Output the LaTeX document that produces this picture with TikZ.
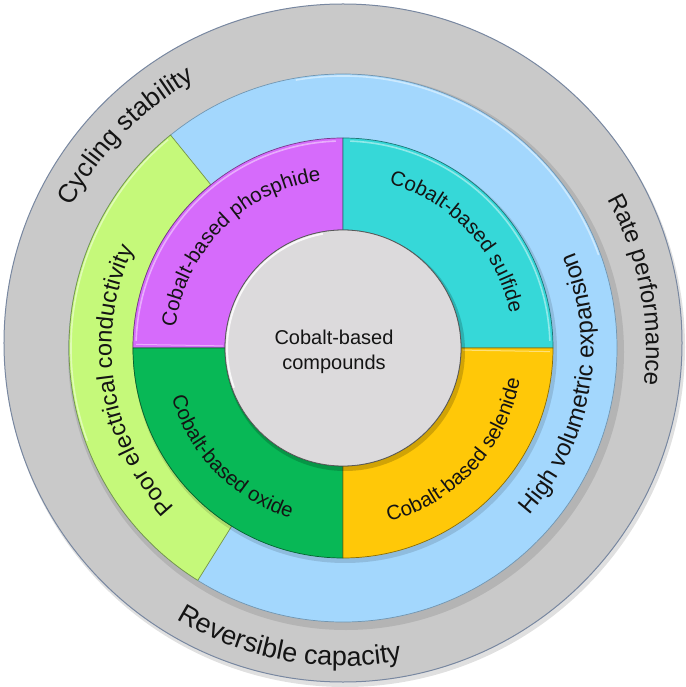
\documentclass[tikz,border=0pt]{standalone}
\usepackage{fontspec}
\setmainfont{Liberation Sans}
\usetikzlibrary{decorations.text}
\definecolor{ringgray}{RGB}{201,201,201}
\definecolor{ringedge}{RGB}{120,135,160}
\definecolor{ringblue}{RGB}{163,215,253}
\definecolor{ringlime}{RGB}{197,249,122}
\definecolor{qmagenta}{RGB}{214,107,251}
\definecolor{qcyan}{RGB}{54,216,216}
\definecolor{qgreen}{RGB}{8,184,86}
\definecolor{qyellow}{RGB}{255,200,8}
\definecolor{corefill}{RGB}{220,218,220}
\definecolor{txt}{RGB}{20,20,20}
\newcommand{\cwtext}[4]{%
  \path[decorate,decoration={text along path,text align=center,text color=txt,
    text={|\fontsize{#3}{#3}\selectfont|#4}}]
    ({#1+85}:#2pt) arc[start angle={#1+85},end angle={#1-85},radius=#2pt];}
\newcommand{\ccwtext}[4]{%
  \path[decorate,decoration={text along path,text align=center,text color=txt,
    text={|\fontsize{#3}{#3}\selectfont|#4}}]
    ({#1-85}:#2pt) arc[start angle={#1-85},end angle={#1+85},radius=#2pt];}
\tikzset{
  seg/.style={line width=0.7pt, line join=round},
  hilite/.style={white, opacity=0.45, line width=1.6pt},
}
\begin{document}
\begin{tikzpicture}[x=1pt,y=1pt]
\useasboundingbox (-343,-339) rectangle (342,348);
% outer gray ring
\fill[black,opacity=0.12] (2,1) circle[radius=340pt];
\fill[ringgray] (0,5) circle[radius=339pt];
\draw[ringedge,line width=1pt] (0,5) circle[radius=339pt];
% shadow of blue ring
\fill[black,opacity=0.10] (3,-4) circle[radius=278pt];
% blue ring
\fill[ringblue] (0,0) circle[radius=274pt];
\draw[ringblue!70!black,line width=0.7pt] (0,0) circle[radius=274pt];
\draw[hilite] (100:272pt) arc[start angle=100,end angle=20,radius=272pt];
% lime sector
\filldraw[seg,fill=ringlime,draw=ringlime!60!black]
  (129:210pt) -- (129:274pt) arc[start angle=129,end angle=238,radius=274pt]
  -- (238:210pt) arc[start angle=238,end angle=129,radius=210pt] -- cycle;
\draw[hilite] (130:272pt) arc[start angle=130,end angle=200,radius=272pt];
% shadow of quadrant ring
\fill[black,opacity=0.12] (2,-3) circle[radius=212pt];
% quadrants
\filldraw[seg,fill=qmagenta,draw=qmagenta!55!black]
  (90:118pt) -- (90:210pt) arc[start angle=90,end angle=180,radius=210pt]
  -- (180:118pt) arc[start angle=180,end angle=90,radius=118pt] -- cycle;
\filldraw[seg,fill=qcyan,draw=qcyan!55!black]
  (0:118pt) -- (0:210pt) arc[start angle=0,end angle=90,radius=210pt]
  -- (90:118pt) arc[start angle=90,end angle=0,radius=118pt] -- cycle;
\filldraw[seg,fill=qgreen,draw=qgreen!55!black]
  (180:118pt) -- (180:210pt) arc[start angle=180,end angle=270,radius=210pt]
  -- (270:118pt) arc[start angle=270,end angle=180,radius=118pt] -- cycle;
\filldraw[seg,fill=qyellow,draw=qyellow!55!black]
  (270:118pt) -- (270:210pt) arc[start angle=270,end angle=360,radius=210pt]
  -- (0:118pt) arc[start angle=360,end angle=270,radius=118pt] -- cycle;
\draw[hilite] (92:207pt) arc[start angle=92,end angle=178,radius=207pt];
\draw[hilite] (2:207pt) arc[start angle=2,end angle=88,radius=207pt];
\draw[hilite,line width=1pt] (-1:120pt) -- (-1:207pt);
\draw[hilite,line width=1pt] (179:120pt) -- (179:207pt);
% core
\fill[black,opacity=0.18] (2,-3) circle[radius=120pt];
\fill[corefill] (0,0) circle[radius=118pt];
\draw[gray!70!black,line width=0.8pt] (0,0) circle[radius=118pt];
\draw[white,line width=2pt,opacity=0.8] (100:116pt) arc[start angle=100,end angle=200,radius=116pt];
\node[anchor=base,text=txt,font=\fontsize{20}{24}\selectfont,inner sep=0pt] (core1) at (-9,3) {Cobalt-based};
\node[anchor=base,text=txt,font=\fontsize{20}{24}\selectfont,inner sep=0pt] (core2) at (-9,-21.3) {compounds};
% curved labels
\cwtext{135.7}{306}{26}{Cycling stability}
\cwtext{11.2}{303}{24}{Rate performance}
\ccwtext{259.6}{318}{27}{Reversible capacity}
\cwtext{189}{231.5}{23.5}{Poor electrical conductivity}
\ccwtext{350.4}{250.5}{24}{High volumetric expansion}
\cwtext{135.2}{168.7}{20.5}{Cobalt-based phosphide}
\cwtext{43}{170.5}{20.5}{Cobalt-based sulfide}
\ccwtext{224.5}{178.3}{20.5}{Cobalt-based oxide}
\ccwtext{317.3}{179.8}{20.5}{Cobalt-based selenide}
\end{tikzpicture}
\end{document}
